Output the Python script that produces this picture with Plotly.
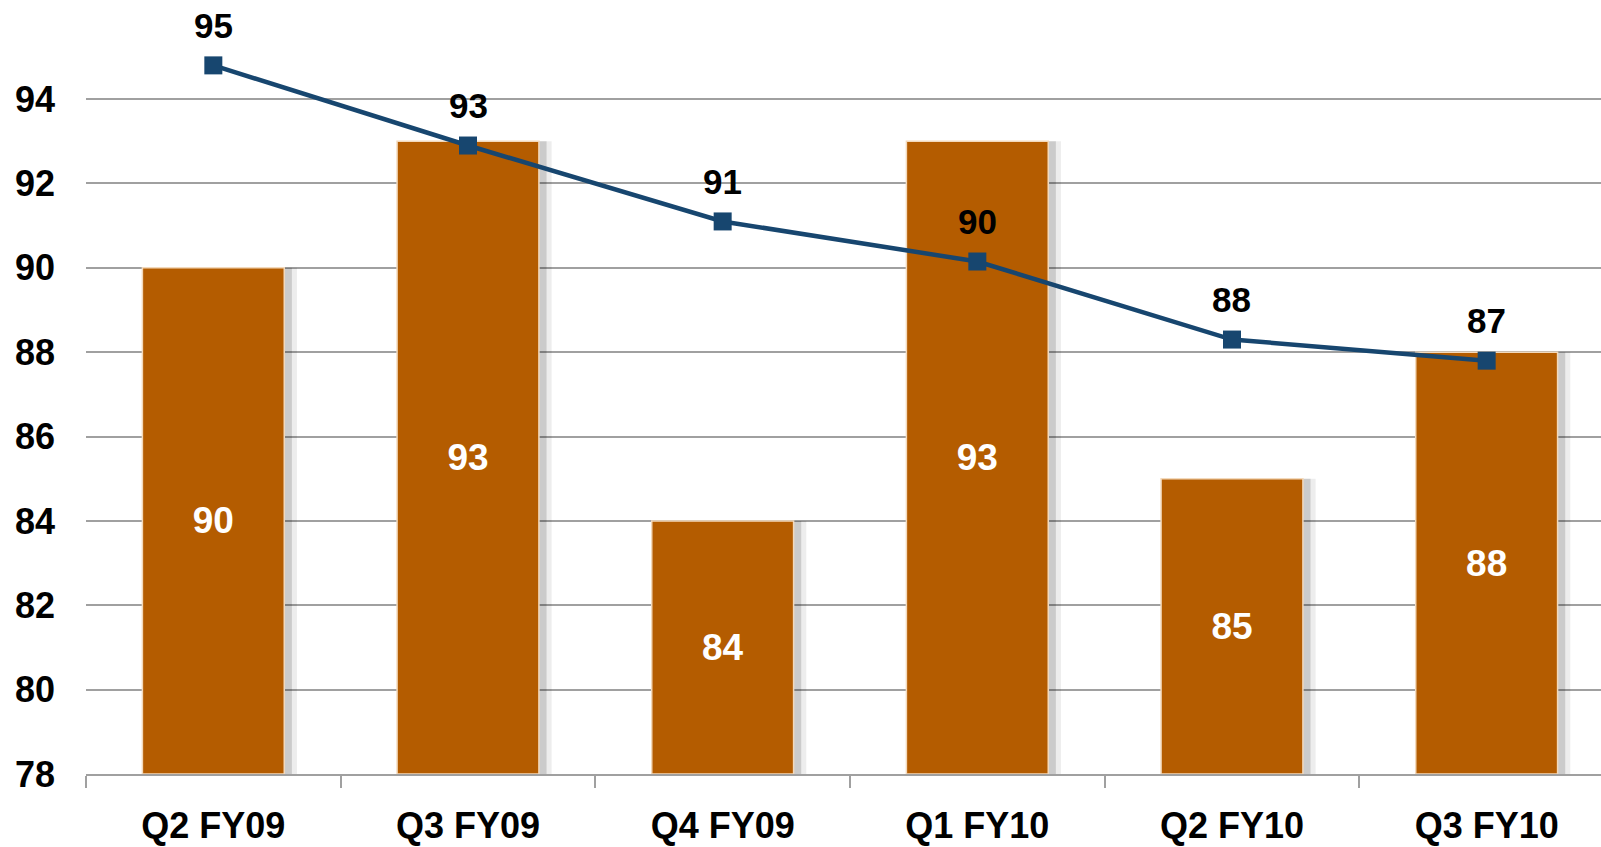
import plotly.graph_objects as go

categories = ["Q2 FY09", "Q3 FY09", "Q4 FY09", "Q1 FY10", "Q2 FY10", "Q3 FY10"]
bar_values = [90, 93, 84, 93, 85, 88]
line_values = [94.8, 92.9, 91.1, 90.15, 88.3, 87.8]
line_labels = ["95", "93", "91", "90", "88", "87"]
y_ticks = [78, 80, 82, 84, 86, 88, 90, 92, 94]

FONT = "Liberation Sans, Arial, sans-serif"
BAR_W = 0.557

fig = go.Figure()

# soft shadow behind bars (two layers to mimic a blur)
for shift, alpha in [(0.05, 0.07), (0.03, 0.14)]:
    fig.add_trace(go.Bar(
        x=categories, y=[v - 78 for v in bar_values], base=78,
        width=BAR_W, offset=-BAR_W / 2 + shift,
        marker=dict(color=f"rgba(0,0,0,{alpha})", line=dict(width=0)),
        hoverinfo="skip", showlegend=False,
    ))

fig.add_trace(go.Bar(
    x=categories, y=[v - 78 for v in bar_values], base=78,
    width=BAR_W, offset=-BAR_W / 2,
    marker=dict(color="#b45c00", line=dict(color="#f3d9bb", width=1.5)),
    text=[str(v) for v in bar_values], textposition="inside",
    insidetextanchor="middle", textangle=0, constraintext="none",
    textfont=dict(family=FONT, size=37, color="white", weight="bold"),
    showlegend=False,
))

fig.add_trace(go.Scatter(
    x=categories, y=line_values, mode="lines+markers",
    line=dict(color="#17466f", width=4.5),
    marker=dict(symbol="square", size=18, color="#17466f"),
    showlegend=False,
))

for c, v, t in zip(categories, line_values, line_labels):
    fig.add_annotation(x=c, y=v, text=t, showarrow=False, yshift=40,
                       font=dict(family=FONT, size=35, color="black", weight="bold"))

fig.update_layout(
    width=1601, height=847,
    margin=dict(l=86, r=0, t=0, b=73, autoexpand=False),
    plot_bgcolor="white", paper_bgcolor="white",
    barmode="overlay",
    xaxis=dict(
        range=[-0.5, 5.449], showgrid=False, automargin=False,
        showline=True, linecolor="#a0a0a0", linewidth=2,
        ticks="outside", tickson="boundaries", ticklen=12, tickcolor="#a0a0a0", tickwidth=2,
        tickfont=dict(family=FONT, size=36, color="black", weight="bold"),
        ticklabelstandoff=19,
    ),
    yaxis=dict(
        range=[78, 96.35], tickvals=y_ticks, ticktext=[str(t) for t in y_ticks],
        showgrid=True, gridcolor="#a0a0a0", gridwidth=1.5, automargin=False,
        zeroline=False, showline=False,
        tickfont=dict(family=FONT, size=36, color="black", weight="bold"),
        ticklabelstandoff=30,
    ),
)

fig.write_html("out.html")
